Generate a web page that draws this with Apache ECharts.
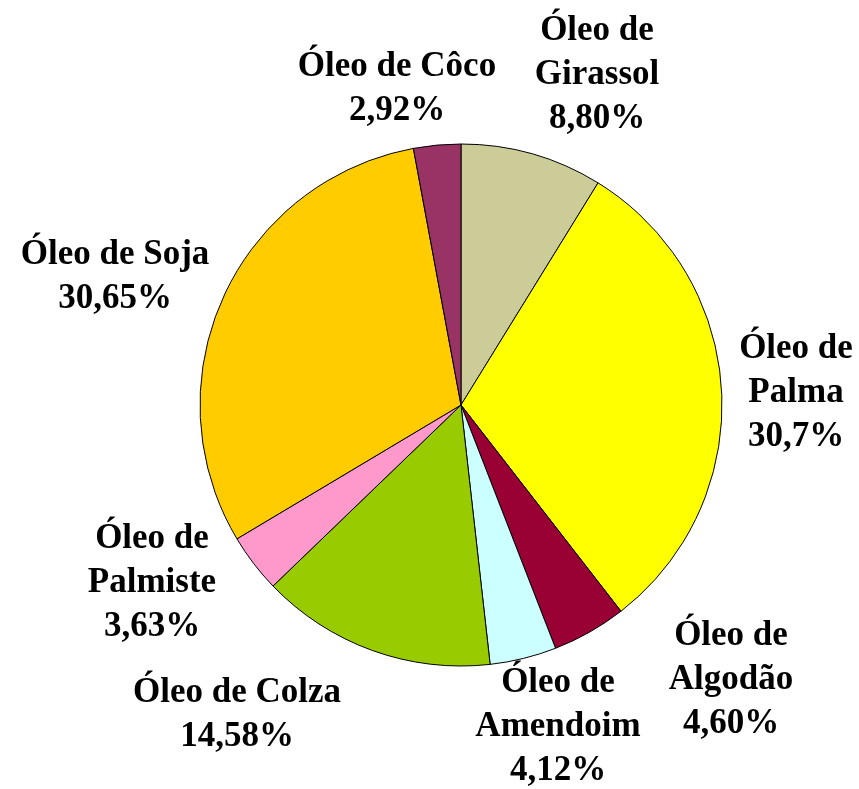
<!DOCTYPE html>
<html>
<head>
<meta charset="utf-8">
<script src="https://cdn.jsdelivr.net/npm/echarts@6/dist/echarts.min.js"></script>
<style>
  html, body { margin: 0; padding: 0; background: #fff; }
  #chart { width: 859px; height: 789px; }
</style>
</head>
<body>
<div id="chart"></div>
<script>
// dados do gráfico (sentido horário a partir do topo)
var nomes = ['Óleo de\nGirassol', 'Óleo de\nPalma', 'Óleo de\nAlgodão', 'Óleo de\nAmendoim',
  'Óleo de Colza', 'Óleo de\nPalmiste', 'Óleo de Soja', 'Óleo de Côco']
var valores = [8.80, 30.7, 4.60, 4.12, 14.58, 3.63, 30.65, 2.92]
var rotulos = ['8,80%', '30,7%', '4,60%', '4,12%', '14,58%', '3,63%', '30,65%', '2,92%']
var cores = ['#CCCC99', '#FFFF00', '#990033', '#CCFFFF', '#99CC00', '#FF99CC', '#FFCC00', '#993366']

// posição dos rótulos (centro do bloco de texto)
var posRotulos = [[597, 75], [796, 393], [731, 680], [558, 727], [237, 715], [152, 583], [115, 277], [397, 89]]

var chart = echarts.init(document.getElementById('chart'))

var dados = valores.map(function(v, i) {
  return { name: nomes[i], value: v, itemStyle: { color: cores[i] } }
})

var option = {
  animation: false,
  backgroundColor: '#fff',
  series: [
    {
      type: 'pie',
      center: [461, 405],
      radius: 261,
      startAngle: 90,
      clockwise: true,
      data: dados,
      itemStyle: {
        borderColor: '#000',
        borderWidth: 1
      },
      emphasis: { disabled: true },
      label: {
        show: true,
        position: 'outside',
        alignTo: 'none',
        overflow: 'none',
        formatter: function(p) {
          return p.name + '\n' + rotulos[p.dataIndex]
        },
        fontFamily: 'Liberation Serif',
        fontWeight: 'bold',
        fontSize: 35,
        lineHeight: 44,
        color: '#000',
        align: 'center'
      },
      labelLine: { show: false },
      labelLayout: function(params) {
        var p = posRotulos[params.dataIndex]
        return {
          x: p[0],
          y: p[1],
          align: 'center',
          verticalAlign: 'middle'
        }
      }
    }
  ]
}

chart.setOption(option)
</script>
</body>
</html>
